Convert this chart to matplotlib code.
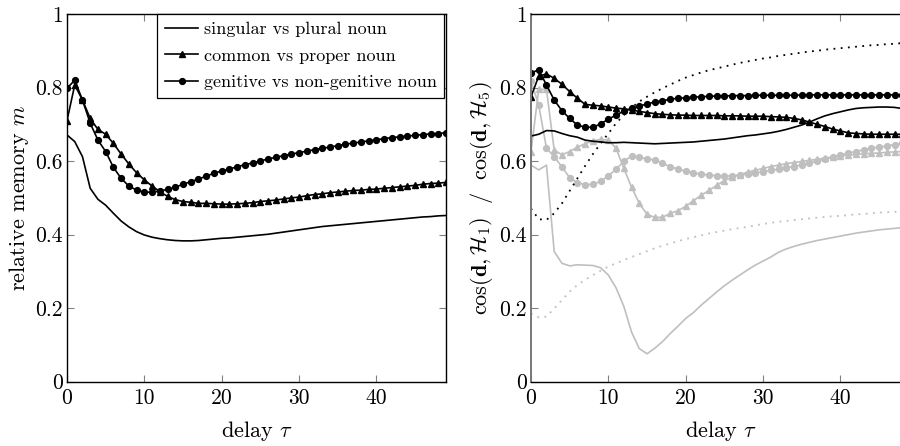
import matplotlib
matplotlib.use("Agg")
import matplotlib.pyplot as plt

plt.rcParams["font.family"] = "serif"
plt.rcParams["font.serif"] = ["cmr10"]
plt.rcParams["mathtext.fontset"] = "cm"
plt.rcParams["axes.formatter.use_mathtext"] = True

# delays
delay = list(range(50))

# left panel: relative memory m
sing_plural = [0.671, 0.653, 0.612, 0.526, 0.496, 0.480, 0.458, 0.437, 0.421, 0.408,
               0.399, 0.393, 0.389, 0.386, 0.384, 0.383, 0.383, 0.384, 0.386, 0.388,
               0.390, 0.391, 0.393, 0.395, 0.397, 0.399, 0.401, 0.404, 0.407, 0.410,
               0.413, 0.416, 0.419, 0.422, 0.424, 0.426, 0.428, 0.430, 0.432, 0.434,
               0.436, 0.438, 0.440, 0.442, 0.444, 0.446, 0.448, 0.449, 0.451, 0.452]
common_proper = [0.710, 0.807, 0.766, 0.716, 0.686, 0.673, 0.648, 0.619, 0.592, 0.568,
                 0.549, 0.532, 0.517, 0.504, 0.495, 0.490, 0.488, 0.485, 0.485, 0.484,
                 0.483, 0.483, 0.484, 0.485, 0.487, 0.490, 0.492, 0.494, 0.497, 0.500,
                 0.502, 0.506, 0.509, 0.511, 0.514, 0.516, 0.518, 0.520, 0.521, 0.523,
                 0.524, 0.526, 0.528, 0.530, 0.532, 0.534, 0.537, 0.539, 0.540, 0.542]
genitive = [0.798, 0.820, 0.766, 0.703, 0.657, 0.626, 0.583, 0.553, 0.532, 0.521,
            0.516, 0.515, 0.519, 0.523, 0.529, 0.537, 0.544, 0.551, 0.559, 0.567,
            0.573, 0.578, 0.585, 0.590, 0.595, 0.600, 0.606, 0.610, 0.615, 0.619,
            0.623, 0.627, 0.631, 0.635, 0.638, 0.642, 0.646, 0.649, 0.652, 0.655,
            0.658, 0.661, 0.664, 0.666, 0.668, 0.670, 0.672, 0.674, 0.675, 0.677]

# right panel: cosine ratio (black and gray sets)
blk_solid = [0.668, 0.673, 0.683, 0.682, 0.675, 0.669, 0.665, 0.657, 0.654, 0.652,
             0.650, 0.650, 0.651, 0.650, 0.649, 0.648, 0.647, 0.648, 0.649, 0.650,
             0.651, 0.652, 0.654, 0.656, 0.658, 0.660, 0.663, 0.666, 0.669, 0.671,
             0.674, 0.677, 0.681, 0.686, 0.692, 0.698, 0.706, 0.715, 0.723, 0.729,
             0.734, 0.739, 0.743, 0.745, 0.746, 0.747, 0.747, 0.746, 0.743, 0.739]
blk_tri = [0.775, 0.831, 0.837, 0.825, 0.809, 0.789, 0.771, 0.754, 0.752, 0.750,
           0.747, 0.744, 0.742, 0.739, 0.735, 0.732, 0.729, 0.727, 0.726, 0.725,
           0.725, 0.724, 0.724, 0.724, 0.724, 0.723, 0.723, 0.723, 0.722, 0.722,
           0.722, 0.721, 0.720, 0.719, 0.716, 0.712, 0.706, 0.700, 0.694, 0.687,
           0.682, 0.677, 0.675, 0.674, 0.673, 0.673, 0.673, 0.673, 0.673, 0.673]
blk_circ = [0.840, 0.848, 0.807, 0.766, 0.737, 0.716, 0.698, 0.692, 0.692, 0.701,
            0.714, 0.725, 0.736, 0.743, 0.750, 0.755, 0.761, 0.764, 0.768, 0.771,
            0.772, 0.774, 0.775, 0.776, 0.777, 0.777, 0.778, 0.778, 0.778, 0.779,
            0.779, 0.779, 0.779, 0.779, 0.779, 0.780, 0.780, 0.780, 0.780, 0.780,
            0.780, 0.780, 0.780, 0.780, 0.780, 0.780, 0.780, 0.780, 0.780, 0.780]
blk_dot = [0.471, 0.442, 0.440, 0.458, 0.485, 0.519, 0.553, 0.587, 0.619, 0.648,
           0.675, 0.703, 0.725, 0.745, 0.762, 0.775, 0.787, 0.798, 0.808, 0.818,
           0.827, 0.834, 0.841, 0.847, 0.852, 0.857, 0.862, 0.867, 0.871, 0.875,
           0.879, 0.882, 0.886, 0.889, 0.892, 0.895, 0.898, 0.900, 0.903, 0.905,
           0.907, 0.909, 0.911, 0.913, 0.915, 0.916, 0.918, 0.919, 0.921, 0.922]
gry_solid = [0.589, 0.576, 0.589, 0.354, 0.322, 0.315, 0.318, 0.317, 0.316, 0.310,
             0.290, 0.255, 0.205, 0.135, 0.090, 0.076, 0.091, 0.109, 0.131, 0.151,
             0.172, 0.188, 0.208, 0.226, 0.244, 0.261, 0.276, 0.290, 0.304, 0.317,
             0.328, 0.339, 0.352, 0.361, 0.368, 0.374, 0.379, 0.384, 0.388, 0.392,
             0.396, 0.400, 0.404, 0.407, 0.410, 0.413, 0.415, 0.417, 0.419, 0.420]
gry_tri = [0.626, 0.795, 0.795, 0.630, 0.617, 0.626, 0.638, 0.647, 0.655, 0.659,
           0.657, 0.635, 0.580, 0.529, 0.485, 0.455, 0.447, 0.447, 0.458, 0.465,
           0.477, 0.492, 0.507, 0.520, 0.534, 0.547, 0.556, 0.563, 0.570, 0.575,
           0.580, 0.585, 0.589, 0.593, 0.596, 0.599, 0.602, 0.605, 0.608, 0.611,
           0.614, 0.616, 0.618, 0.620, 0.621, 0.622, 0.624, 0.625, 0.626, 0.626]
gry_circ = [0.818, 0.752, 0.635, 0.612, 0.584, 0.555, 0.541, 0.536, 0.537, 0.545,
            0.560, 0.578, 0.599, 0.614, 0.611, 0.606, 0.603, 0.594, 0.585, 0.578,
            0.573, 0.568, 0.565, 0.562, 0.560, 0.559, 0.560, 0.562, 0.565, 0.568,
            0.571, 0.575, 0.578, 0.582, 0.585, 0.590, 0.594, 0.600, 0.605, 0.611,
            0.617, 0.622, 0.626, 0.631, 0.635, 0.638, 0.641, 0.645, 0.648, 0.651]
gry_dot = [0.186, 0.175, 0.177, 0.199, 0.222, 0.245, 0.263, 0.277, 0.290, 0.302,
           0.313, 0.322, 0.331, 0.339, 0.347, 0.355, 0.363, 0.370, 0.376, 0.382,
           0.388, 0.393, 0.398, 0.403, 0.407, 0.411, 0.415, 0.418, 0.421, 0.425,
           0.429, 0.432, 0.435, 0.437, 0.440, 0.442, 0.444, 0.446, 0.448, 0.450,
           0.451, 0.453, 0.455, 0.456, 0.458, 0.460, 0.461, 0.462, 0.463, 0.464]

legend_labels = ["singular vs plural noun", "common vs proper noun",
                 "genitive vs non-genitive noun"]
xticks = [0, 10, 20, 30, 40]
yticks = [0, 0.2, 0.4, 0.6, 0.8, 1]
ytick_labels = ["0", "0.2", "0.4", "0.6", "0.8", "1"]

GRAY = "#bfbfbf"
LW = 1.2
MS = 4.2
TICK_FS = 15.5
LABEL_FS = 16

fig = plt.figure(figsize=(9, 4.46), dpi=100)
ax1 = fig.add_axes([67 / 900, 64.3 / 446, 379 / 900, 367.7 / 446])
ax2 = fig.add_axes([531 / 900, 64.3 / 446, 379 / 900, 367.7 / 446])


def style(ax):
    ax.set_xlim(0, 49)
    ax.set_ylim(0, 1)
    ax.set_xticks(xticks)
    ax.set_xticklabels([str(t) for t in xticks])
    ax.set_yticks(yticks)
    ax.set_yticklabels(ytick_labels)
    ax.tick_params(direction="in", length=5, width=0.8, color="#808080",
                   top=True, right=True, labelsize=TICK_FS, pad=3)
    ax.tick_params(axis="x", pad=5)
    for s in ax.spines.values():
        s.set_linewidth(1.0)
    ax.set_xlabel(r"delay $\tau$", fontsize=LABEL_FS, labelpad=8)


# left
ax1.plot(delay, sing_plural, color="black", lw=LW, label=legend_labels[0])
ax1.plot(delay, common_proper, color="black", lw=LW, marker="^", ms=MS,
         label=legend_labels[1])
ax1.plot(delay, genitive, color="black", lw=LW, marker="o", ms=MS,
         label=legend_labels[2])
style(ax1)
ax1.set_ylabel(r"relative memory $m$", fontsize=LABEL_FS, labelpad=3)
leg = ax1.legend(loc="upper right", bbox_to_anchor=(0.995, 1.0), borderaxespad=0,
                 fontsize=13, frameon=True, fancybox=False, edgecolor="black",
                 framealpha=1, handlelength=1.85, handletextpad=0.28,
                 labelspacing=0.6, borderpad=0.42)
leg.get_frame().set_linewidth(0.9)

# right
ax2.plot(delay, gry_solid, color=GRAY, lw=LW)
ax2.plot(delay, gry_dot, color=GRAY, lw=1.3, ls=(0, (1, 3)))
ax2.plot(delay, gry_tri, color=GRAY, lw=LW, marker="^", ms=MS)
ax2.plot(delay, gry_circ, color=GRAY, lw=LW, marker="o", ms=MS)
ax2.plot(delay, blk_dot, color="black", lw=1.3, ls=(0, (1, 3)))
ax2.plot(delay, blk_solid, color="black", lw=LW)
ax2.plot(delay, blk_tri, color="black", lw=LW, marker="^", ms=MS)
ax2.plot(delay, blk_circ, color="black", lw=LW, marker="o", ms=MS)
style(ax2)
ax2.spines["left"].set_color("#777777")
ax2.spines["left"].set_linewidth(1.4)
ax2.set_ylabel(r"$\cos(\mathbf{d},\mathcal{H}_1)\ \ /\ \ \cos(\mathbf{d},\mathcal{H}_5)$",
               fontsize=LABEL_FS, labelpad=3)

fig.savefig("out.png", dpi=100)
